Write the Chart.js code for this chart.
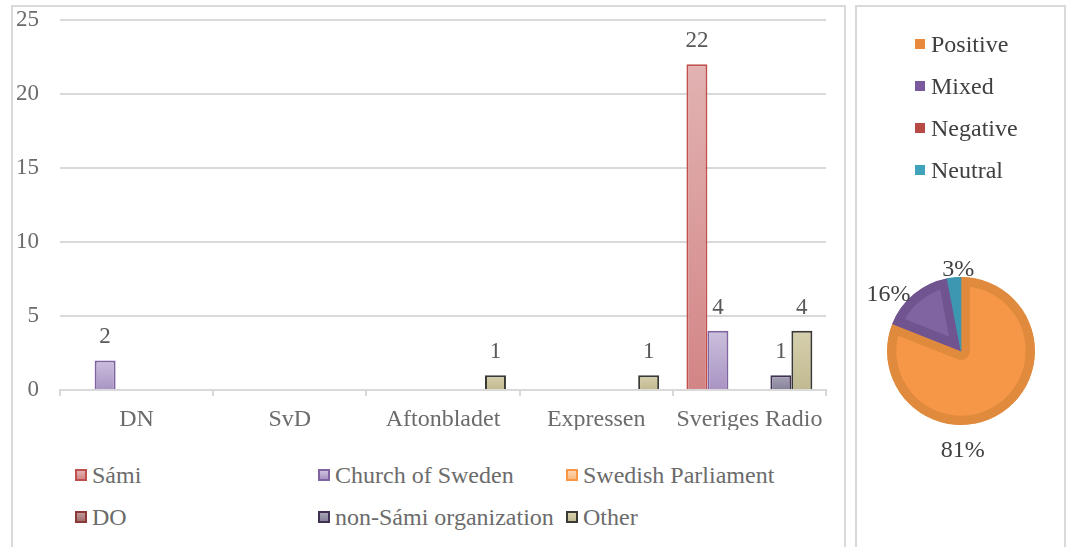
<!DOCTYPE html>
<html lang="en">
<head>
<meta charset="UTF-8">
<title>Coverage by actor and tone</title>
<script src="https://cdn.jsdelivr.net/npm/chart.js"></script>
<style>
    body { margin: 0; background: #fff; width: 1066px; height: 547px; overflow: hidden; position: relative; font-family: "Liberation Serif", "Times New Roman", serif; }
    .panel { position: absolute; top: 5px; border: 2px solid #d9d9d9; box-sizing: border-box; height: 600px; }
    #leftPanel { left: 11px; width: 835px; }
    #rightPanel { left: 855px; width: 211px; }
    #barWrap { position: absolute; left: 14px; top: 6px; }
    #pieWrap { position: absolute; left: 858px; top: 8px; }
    .legend { position: absolute; color: #6b6b6b; font-size: 24px; }
    .item { position: absolute; display: flex; align-items: center; white-space: nowrap; line-height: 28px; height: 28px; }
    .box { width: 8px; height: 8px; border: 2px solid; margin-right: 5px; }
    .pieItem { position: absolute; display: flex; align-items: center; white-space: nowrap; color: #404040; font-size: 24px; line-height: 28px; height: 28px; }
    .pbox { width: 10px; height: 10px; margin-right: 6px; }
</style>
</head>
<body>
<div class="panel" id="leftPanel"></div>
<div class="panel" id="rightPanel"></div>
<div id="barWrap"><canvas id="barChart" width="828" height="434"></canvas></div>
<div id="barLegend"></div>
<div id="pieWrap"><canvas id="pieChart" width="205" height="539"></canvas></div>
<div id="pieLegend"></div>

<script>
    // bar chart data (count of articles per outlet and actor)
    const outlets = ['DN', 'SvD', 'Aftonbladet', 'Expressen', 'Sveriges Radio'];
    const actors = ['Sámi', 'Church of Sweden', 'Swedish Parliament', 'DO', 'non-Sámi organization', 'Other'];
    const samiValues = [0, 0, 0, 0, 22];
    const churchValues = [2, 0, 0, 0, 4];
    const parliamentValues = [0, 0, 0, 0, 0];
    const doValues = [0, 0, 0, 0, 0];
    const nonSamiValues = [0, 0, 0, 0, 1];
    const otherValues = [0, 0, 1, 1, 4];
    const yTicks = [0, 5, 10, 15, 20, 25];

    // pie chart data (share of tone, %)
    const tones = ['Positive', 'Mixed', 'Negative', 'Neutral'];
    const toneValues = [81, 16, 0, 3];

    // styles
    const barColors = [
        { top: '#e2b2b2', bottom: '#d38585', border: '#c0504d' },
        { top: '#cbc0dc', bottom: '#a893c3', border: '#8064a2' },
        { top: '#fcd6b2', bottom: '#f9b77e', border: '#f79646' },
        { top: '#c09a9a', bottom: '#a26e6e', border: '#8c3836' },
        { top: '#a8a4b6', bottom: '#86819a', border: '#403152' },
        { top: '#d6d0ae', bottom: '#c1b98f', border: '#3a3a34' }
    ];
    const pieFill = ['#f59746', '#8063a1', '#c0504d', '#4bacc6'];
    const pieEdge = ['#e08a3d', '#6f5490', '#a8443f', '#3e97b0'];
    const pieKey = ['#e8893c', '#7a5a9c', '#b84a48', '#41a2bc'];
    // where each pie percentage sits: angle in degrees (canvas) and distance from centre
    const pieLabelSpot = [[89, 100], [218, 92], [0, 0], [268, 81]];

    const serif = '"Liberation Serif", "Times New Roman", serif';

    function barGradient(c) {
        return function(ctx) {
            const chart = ctx.chart;
            if (!chart.chartArea || ctx.type !== 'data' || !chart.scales.y) return c.bottom;
            const v = ctx.parsed ? ctx.parsed.y : ctx.raw;
            const y0 = chart.scales.y.getPixelForValue(v);
            const y1 = chart.scales.y.getPixelForValue(0);
            if (!(y1 > y0)) return c.bottom;
            const g = chart.ctx.createLinearGradient(0, y0, 0, y1);
            g.addColorStop(0, c.top);
            g.addColorStop(1, c.bottom);
            return g;
        };
    }

    const seriesValues = [samiValues, churchValues, parliamentValues, doValues, nonSamiValues, otherValues];

    const barData = {
        labels: outlets,
        datasets: actors.map(function(name, i) {
            return {
                label: name,
                data: seriesValues[i],
                backgroundColor: barGradient(barColors[i]),
                borderColor: barColors[i].border,
                borderWidth: 2,
                borderSkipped: 'bottom',
                categoryPercentage: 0.822,
                barPercentage: 1
            };
        })
    };

    const valueLabels = {
        id: 'valueLabels',
        afterDatasetsDraw(chart) {
            const ctx = chart.ctx;
            ctx.save();
            ctx.font = '23px ' + serif;
            ctx.fillStyle = '#595959';
            ctx.textAlign = 'center';
            ctx.textBaseline = 'middle';
            chart.data.datasets.forEach(function(ds, i) {
                chart.getDatasetMeta(i).data.forEach(function(bar, j) {
                    if (ds.data[j] > 0) ctx.fillText(ds.data[j], bar.x, bar.y - 23);
                });
            });
            ctx.restore();
        }
    };

    new Chart(document.getElementById('barChart'), {
        type: 'bar',
        data: barData,
        plugins: [valueLabels],
        options: {
            responsive: false,
            animation: false,
            layout: { padding: { left: 0, right: 16, top: 0, bottom: 10 } },
            plugins: { legend: { display: false }, tooltip: { enabled: false } },
            scales: {
                x: {
                    grid: { offset: true, drawOnChartArea: false, drawTicks: true, tickLength: 6, color: '#d9d9d9', lineWidth: 2 },
                    border: { display: true, color: '#d9d9d9', width: 2 },
                    ticks: { font: { family: serif, size: 24 }, color: '#6b6b6b', padding: 9, maxRotation: 0 },
                    afterFit(scale) { scale.height = 40; }
                },
                y: {
                    min: 0,
                    max: 25,
                    afterBuildTicks(scale) { scale.ticks = yTicks.map(function(v) { return { value: v }; }); },
                    grid: { color: '#d9d9d9', lineWidth: 2, drawTicks: true, tickLength: 21, tickColor: 'rgba(0,0,0,0)' },
                    border: { display: false },
                    ticks: { font: { family: serif, size: 23 }, color: '#6b6b6b', padding: 0 },
                    afterFit(scale) { scale.width = 46; }
                }
            }
        }
    });

    // bar legend: 3 columns, 2 rows
    const legendCols = [75, 318, 566];
    const legendRows = [475, 517];
    const barLegend = document.getElementById('barLegend');
    barLegend.className = 'legend';
    actors.forEach(function(name, i) {
        const item = document.createElement('div');
        item.className = 'item';
        item.style.left = legendCols[i % 3] + 'px';
        item.style.top = (legendRows[Math.floor(i / 3)] - 14) + 'px';
        const box = document.createElement('span');
        box.className = 'box';
        box.style.borderColor = barColors[i].border;
        box.style.background = 'linear-gradient(' + barColors[i].top + ',' + barColors[i].bottom + ')';
        item.appendChild(box);
        item.appendChild(document.createTextNode(name));
        barLegend.appendChild(item);
    });

    // pie
    const pieLabels = {
        id: 'pieLabels',
        afterDatasetsDraw(chart) {
            const ctx = chart.ctx;
            const vals = chart.data.datasets[0].data;
            ctx.save();
            ctx.font = '24px ' + serif;
            ctx.fillStyle = '#404040';
            ctx.textAlign = 'center';
            ctx.textBaseline = 'middle';
            chart.getDatasetMeta(0).data.forEach(function(arc, i) {
                if (!(vals[i] > 0)) return;
                const a = pieLabelSpot[i][0] * Math.PI / 180;
                const d = pieLabelSpot[i][1];
                ctx.fillText(vals[i] + '%', arc.x + Math.cos(a) * d, arc.y + Math.sin(a) * d);
            });
            ctx.restore();
        }
    };

    new Chart(document.getElementById('pieChart'), {
        type: 'pie',
        data: {
            labels: tones,
            datasets: [{
                data: toneValues,
                backgroundColor: pieFill,
                borderColor: pieEdge,
                borderWidth: 9,
                hoverBorderWidth: 9,
                borderAlign: 'inner'
            }]
        },
        plugins: [pieLabels],
        options: {
            responsive: false,
            animation: false,
            layout: { padding: { left: 29, right: 28, top: 269, bottom: 122 } },
            plugins: { legend: { display: false }, tooltip: { enabled: false } }
        }
    });

    const pieLegend = document.getElementById('pieLegend');
    tones.forEach(function(name, i) {
        const item = document.createElement('div');
        item.className = 'pieItem';
        item.style.left = '915px';
        item.style.top = (44 + i * 42 - 14) + 'px';
        const box = document.createElement('span');
        box.className = 'pbox';
        box.style.background = pieKey[i];
        item.appendChild(box);
        item.appendChild(document.createTextNode(name));
        pieLegend.appendChild(item);
    });
</script>
</body>
</html>
